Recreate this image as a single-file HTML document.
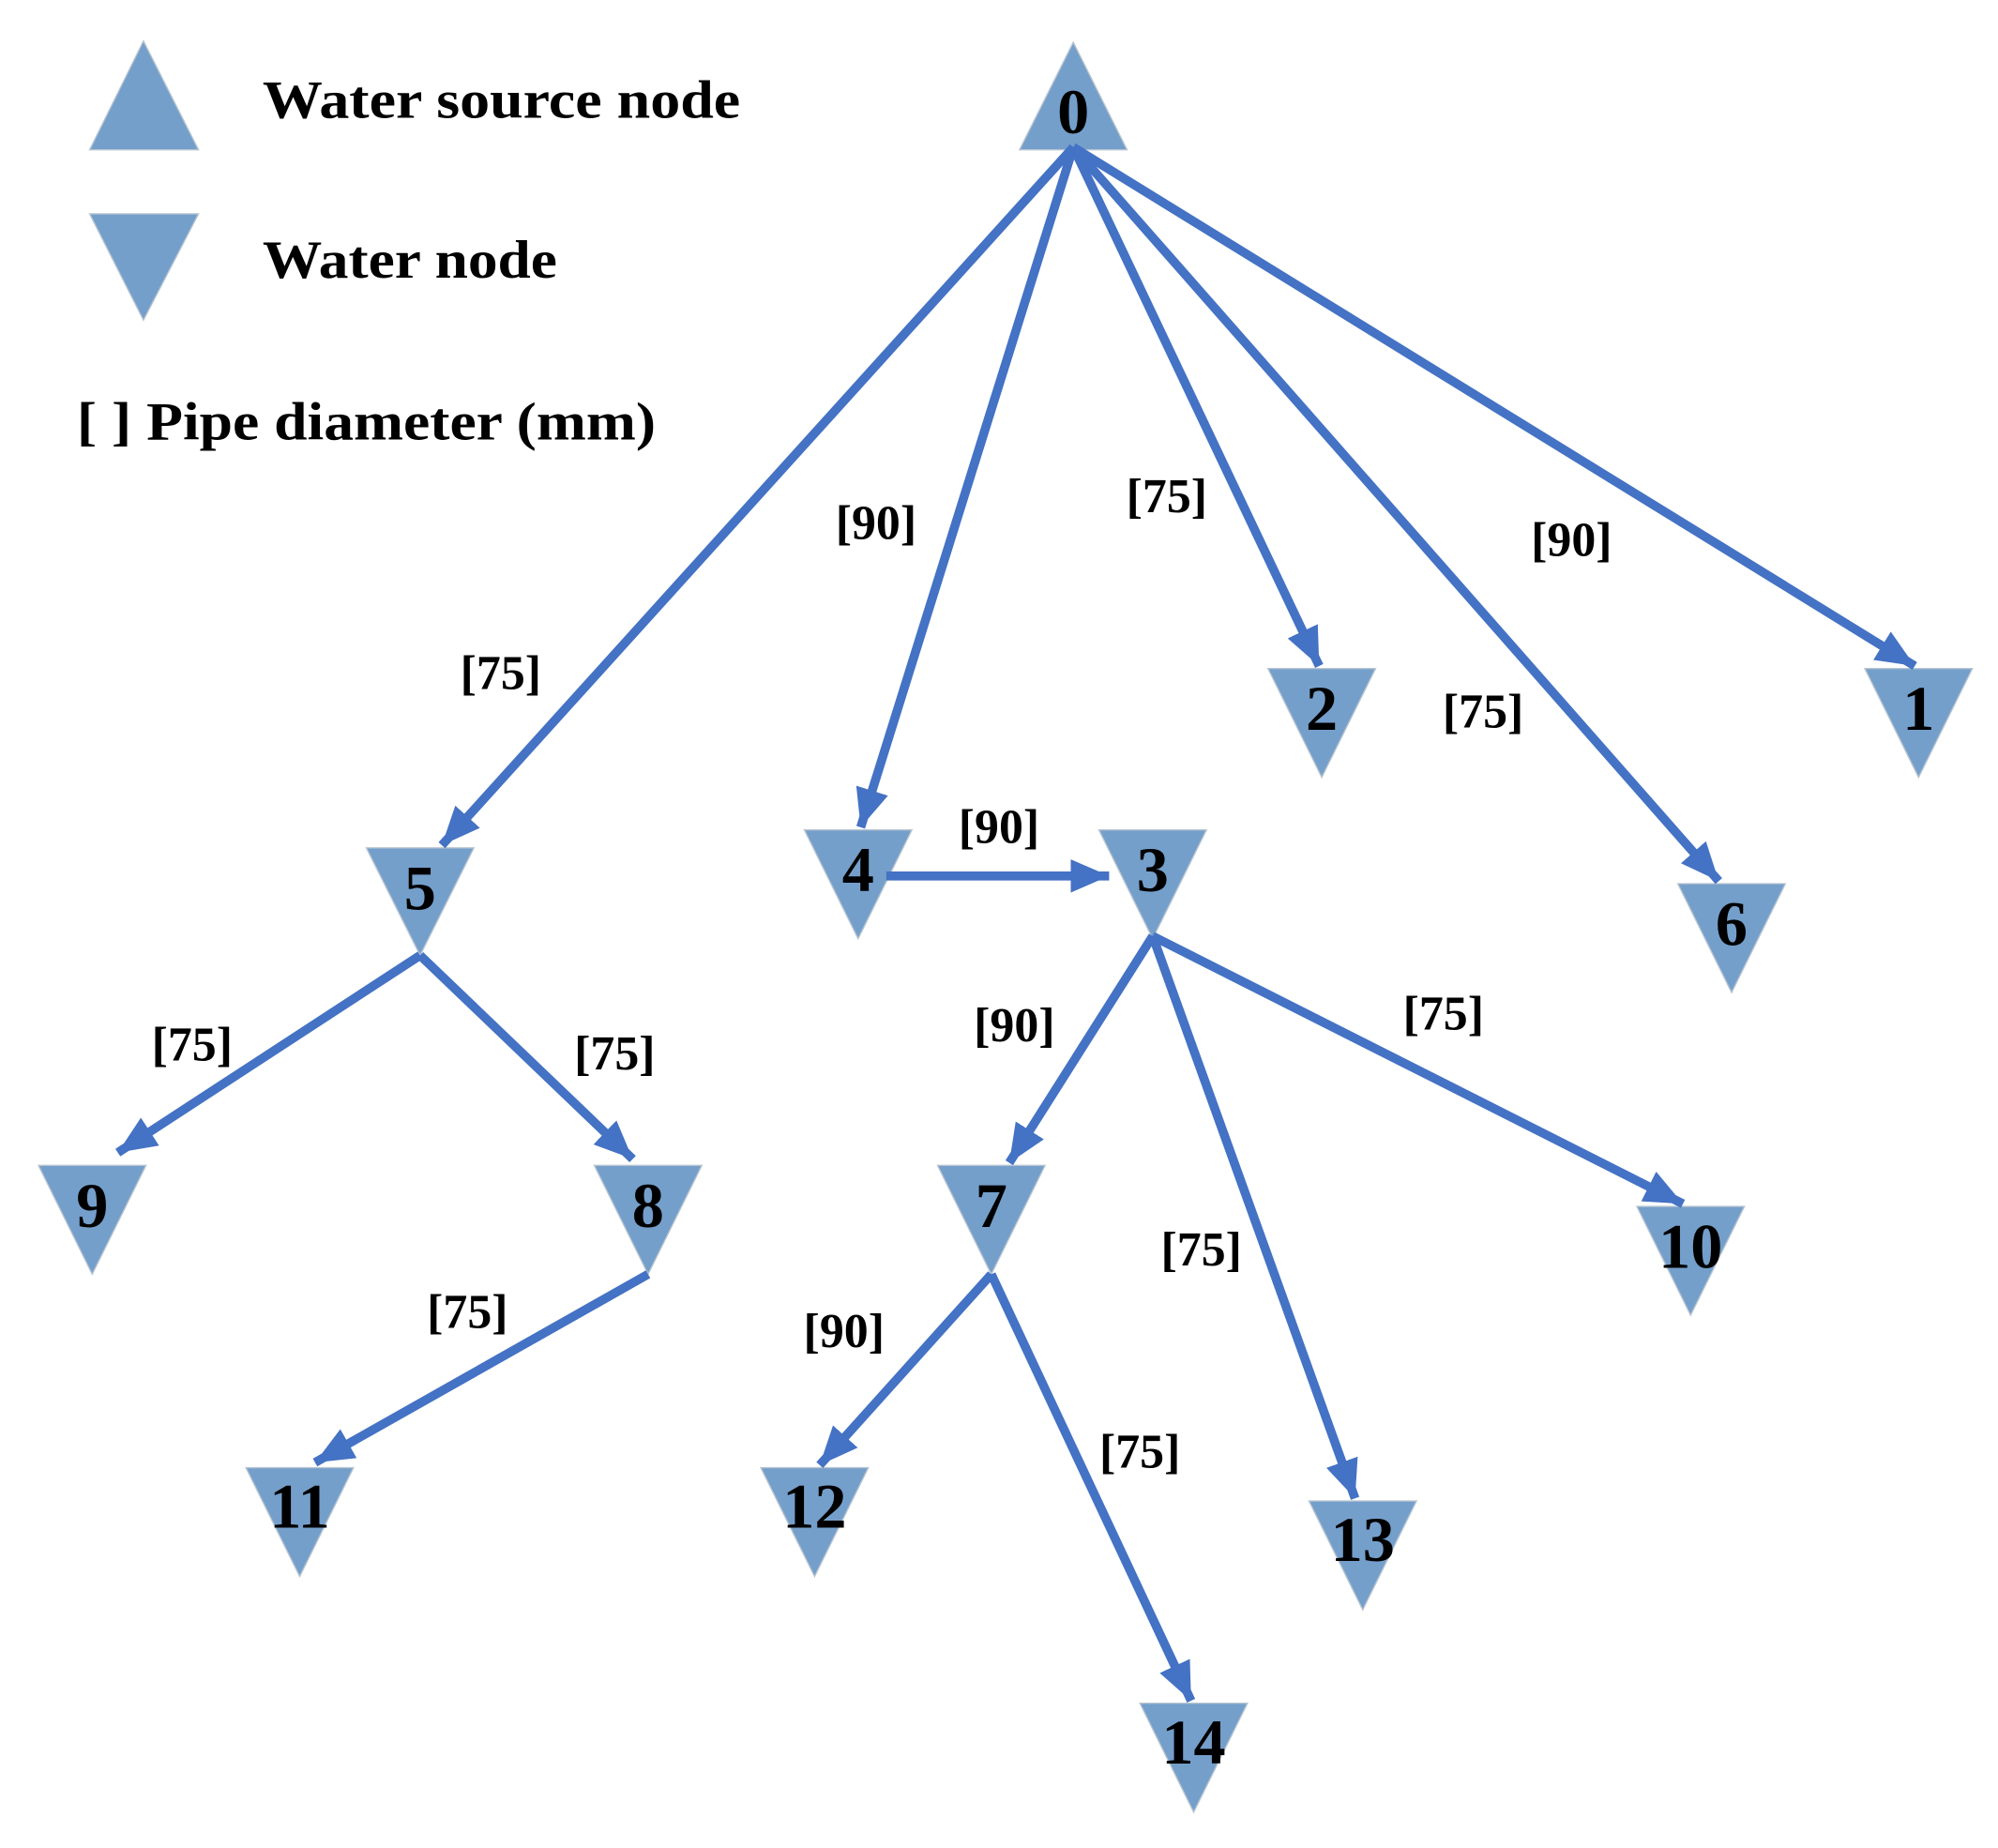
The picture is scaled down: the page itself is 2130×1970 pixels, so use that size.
<!DOCTYPE html>
<html><head><meta charset="utf-8"><style>html,body{margin:0;padding:0;background:#fff}svg{display:block}</style></head>
<body>
<svg width="2130" height="1970" viewBox="0 0 1560 1443" preserveAspectRatio="none" xmlns="http://www.w3.org/2000/svg">
<defs>
<marker id="a" markerUnits="userSpaceOnUse" markerWidth="30" markerHeight="26" refX="30" refY="13" orient="auto">
<path d="M0,0 L30,13 L0,26 z" fill="#4472C4"/></marker>
</defs>
<g fill="#749FCB" stroke="#b8c4d0" stroke-width="1">
<polygon points="112,32 70,117 155,117"/>
<polygon points="70,167 155,167 112,250"/>
<polygon points="838,33 796,117 880,117"/>
<polygon points="1456,522 1540,522 1498,607"/>
<polygon points="990,522 1074,522 1032,607"/>
<polygon points="1310,690 1394,690 1352,775"/>
<polygon points="286,662 370,662 328,746"/>
<polygon points="628,648 712,648 670,733"/>
<polygon points="858,648 942,648 900,733"/>
<polygon points="30,910 114,910 72,995"/>
<polygon points="464,910 548,910 506,995"/>
<polygon points="732,910 816,910 774,995"/>
<polygon points="1278,942 1362,942 1320,1027"/>
<polygon points="192,1146 276,1146 234,1231"/>
<polygon points="594,1146 678,1146 636,1231"/>
<polygon points="1022,1172 1106,1172 1064,1257"/>
<polygon points="890,1330 974,1330 932,1415"/>
</g>
<g stroke="#4472C4" stroke-width="7" marker-end="url(#a)" fill="none">
<line x1="838" y1="115" x2="345" y2="660"/>
<line x1="838" y1="115" x2="672" y2="646"/>
<line x1="838" y1="115" x2="1030" y2="520"/>
<line x1="838" y1="115" x2="1342" y2="688"/>
<line x1="838" y1="115" x2="1495" y2="520"/>
<line x1="692" y1="684" x2="866" y2="684"/>
<line x1="900" y1="731" x2="788" y2="908"/>
<line x1="900" y1="731" x2="1058" y2="1170"/>
<line x1="900" y1="731" x2="1314" y2="940"/>
<line x1="328" y1="746" x2="92" y2="900"/>
<line x1="328" y1="746" x2="494" y2="905"/>
<line x1="506" y1="995" x2="246" y2="1142"/>
<line x1="774" y1="995" x2="640" y2="1144"/>
<line x1="774" y1="995" x2="930" y2="1328"/>
</g>
<g font-family="Liberation Serif, serif" font-weight="bold" fill="#000">
<text x="205" y="92" font-size="42" textLength="373" lengthAdjust="spacingAndGlyphs">Water source node</text>
<text x="205" y="217" font-size="42" textLength="230" lengthAdjust="spacingAndGlyphs">Water node</text>
<text x="60" y="343" font-size="42" textLength="452" lengthAdjust="spacingAndGlyphs">[ ] Pipe diameter (mm)</text>
</g>
<g font-family="Liberation Serif, serif" font-weight="bold" font-size="50" text-anchor="middle" fill="#000">
<text x="838" y="104">0</text>
<text x="1498" y="570">1</text>
<text x="1032" y="570">2</text>
<text x="1352" y="738">6</text>
<text x="328" y="710">5</text>
<text x="670" y="696">4</text>
<text x="900" y="696">3</text>
<text x="72" y="958">9</text>
<text x="506" y="958">8</text>
<text x="774" y="958">7</text>
<text x="1320" y="990">10</text>
<text x="234" y="1193">11</text>
<text x="636" y="1193">12</text>
<text x="1064" y="1219">13</text>
<text x="932" y="1377">14</text>
</g>
<g font-family="Liberation Serif, serif" font-weight="bold" font-size="38" text-anchor="middle" fill="#000">
<text x="391" y="538">[75]</text>
<text x="684" y="421">[90]</text>
<text x="911" y="400">[75]</text>
<text x="1227" y="434">[90]</text>
<text x="1158" y="568">[75]</text>
<text x="780" y="658">[90]</text>
<text x="792" y="813">[90]</text>
<text x="1127" y="804">[75]</text>
<text x="150" y="828">[75]</text>
<text x="480" y="835">[75]</text>
<text x="365" y="1037">[75]</text>
<text x="659" y="1052">[90]</text>
<text x="938" y="988">[75]</text>
<text x="890" y="1146">[75]</text>
</g>
</svg>
</body></html>
